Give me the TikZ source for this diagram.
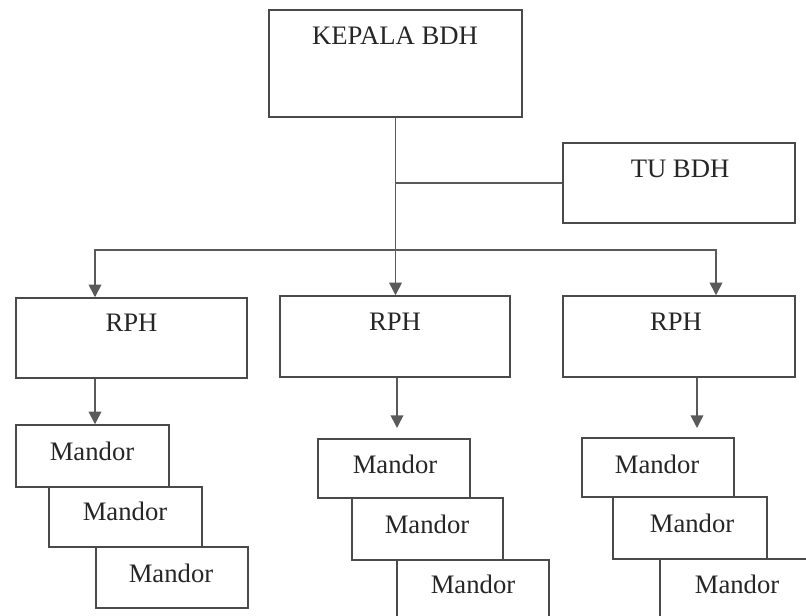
\documentclass[tikz,border=0pt]{standalone}
\usepackage{fontspec}
\setmainfont{Liberation Serif}
\usetikzlibrary{fit,arrows.meta}
\definecolor{boxline}{HTML}{4A4A4A}
\definecolor{arrline}{HTML}{5A5A5A}
\begin{document}
\begin{tikzpicture}[x=0.75pt,y=-0.75pt,
  box/.style={draw=boxline,line width=1.1pt,inner sep=0pt,rectangle},
  lbl/.style={anchor=base,inner sep=0pt,text=black!85,font=\fontsize{20}{24}\selectfont},
  conn/.style={draw=arrline,line width=1.2pt},
  arr/.style={conn,-{Triangle[length=9.5pt,width=9.5pt]}}]
\useasboundingbox (0,0) rectangle (806,616);
\clip (0,0) rectangle (806,616);
\fill[white] (0,0) rectangle (806,616);
% boxes
\node[box,fit={(269,10) (522,117)}] (k) {};
\node[box,fit={(563,143) (795,223)}] (tu) {};
\node[box,fit={(16,298) (247,378)}] (rph1) {};
\node[box,fit={(280,296) (510,377)}] (rph2) {};
\node[box,fit={(563,296) (795,377)}] (rph3) {};
\node[box,fit={(16,425) (169,487)}] (l1) {};
\node[box,fit={(49,487) (202,547)}] (l2) {};
\node[box,fit={(96,547) (248,608)}] (l3) {};
\node[box,fit={(318,439) (470,498)}] (m1) {};
\node[box,fit={(352,498) (503,560)}] (m2) {};
\node[box,fit={(397,560) (549,640)}] (m3) {};
\node[box,fit={(582,438) (734,497)}] (r1) {};
\node[box,fit={(613,497) (767,559)}] (r2) {};
\node[box,fit={(660,559) (812,640)}] (r3) {};
% labels
\node[lbl] (tk) at (395,45) {KEPALA BDH};
\node[lbl] (ttu) at (680,178) {TU BDH};
\node[lbl] (tr1) at (131.5,331) {RPH};
\node[lbl] (tr2) at (395,330) {RPH};
\node[lbl] (tr3) at (676,330) {RPH};
\node[lbl] (tl1) at (92,460) {Mandor};
\node[lbl] (tl2) at (125,520) {Mandor};
\node[lbl] (tl3) at (171,582) {Mandor};
\node[lbl] (tm1) at (395,473) {Mandor};
\node[lbl] (tm2) at (427,533) {Mandor};
\node[lbl] (tm3) at (473,593) {Mandor};
\node[lbl] (tq1) at (657,473) {Mandor};
\node[lbl] (tq2) at (692,532) {Mandor};
\node[lbl] (tq3) at (737,593) {Mandor};
% connector coordinates
\coordinate (bl) at (95,250);
\coordinate (br) at (716,250);
\coordinate (a1) at (95,0);
\coordinate (t2) at (397,428);
\coordinate (t3) at (697,428);
% connectors
\draw[conn] (tu.west) -- (k.south |- tu.west);
\draw[arr] (k.south) -- (k.south |- rph2.north);
\draw[arr] (k.south |- bl) -- (bl) -- (bl |- rph1.north);
\draw[arr] (k.south |- br) -- (br) -- (br |- rph3.north);
\draw[arr] (rph1.south -| a1) -- (l1.north -| a1);
\draw[arr] (rph2.south -| t2) -- (t2);
\draw[arr] (rph3.south -| t3) -- (t3);
\end{tikzpicture}
\end{document}
